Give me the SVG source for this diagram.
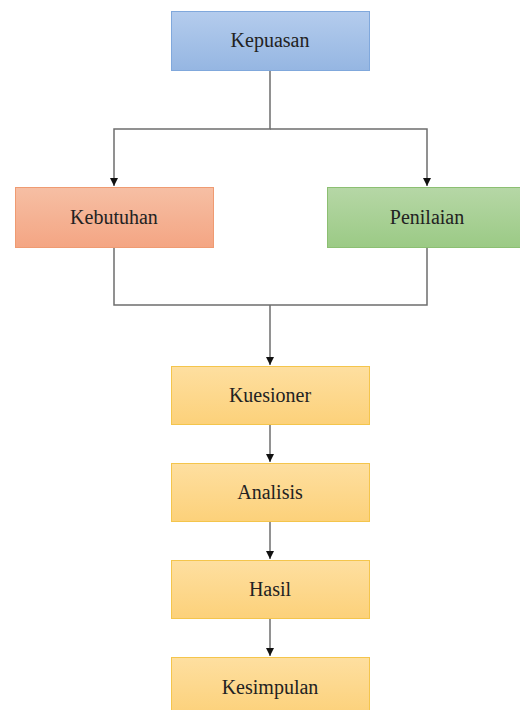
<svg xmlns="http://www.w3.org/2000/svg" width="520" height="710" viewBox="0 0 520 710">
<style>
.t{font-size:20px;fill:#222;text-anchor:middle}
.c{fill:none;stroke:#6e6e6e;stroke-width:1.5}
</style>
<defs>
<linearGradient id="gb" x1="0" y1="0" x2="0" y2="1"><stop offset="0" stop-color="#b4cced"/><stop offset="1" stop-color="#95b6e2"/></linearGradient>
<linearGradient id="go" x1="0" y1="0" x2="0" y2="1"><stop offset="0" stop-color="#f6bfa4"/><stop offset="1" stop-color="#f4a583"/></linearGradient>
<linearGradient id="gg" x1="0" y1="0" x2="0" y2="1"><stop offset="0" stop-color="#b6d7a6"/><stop offset="1" stop-color="#9bca85"/></linearGradient>
<linearGradient id="gy" x1="0" y1="0" x2="0" y2="1"><stop offset="0" stop-color="#fedfa0"/><stop offset="1" stop-color="#fcd17a"/></linearGradient>
<marker id="ah" markerWidth="10" markerHeight="10" refX="8" refY="5" orient="auto" markerUnits="userSpaceOnUse"><path d="M0,1 L8,5 L0,9 Z" fill="#111"/></marker>
</defs>
<g id="connectors">
<path class="c" d="M270,70 V129 H114 V186" marker-end="url(#ah)"/>
<path class="c" d="M270,129 H427 V186" marker-end="url(#ah)"/>
<path class="c" d="M114,247 V305 H427 V247"/>
<path class="c" d="M270,305 V365" marker-end="url(#ah)"/>
<path class="c" d="M270,424 V462" marker-end="url(#ah)"/>
<path class="c" d="M270,521 V559" marker-end="url(#ah)"/>
<path class="c" d="M270,618 V656" marker-end="url(#ah)"/>
</g>
<g font-family="'Liberation Serif', 'Times New Roman', 'DejaVu Serif', serif">
<g id="kepuasan"><rect x="171.5" y="11.5" width="198" height="59" fill="url(#gb)" stroke="#80a8dc"/><text class="t" x="270" y="47">Kepuasan</text></g>
<g id="kebutuhan"><rect x="15.5" y="187.5" width="198" height="60" fill="url(#go)" stroke="#ef9b72"/><text class="t" x="114" y="224">Kebutuhan</text></g>
<g id="penilaian"><rect x="327.5" y="187.5" width="198" height="60" fill="url(#gg)" stroke="#8cbf72"/><text class="t" x="427" y="224">Penilaian</text></g>
<g id="kuesioner"><rect x="171.5" y="366.5" width="198" height="58" fill="url(#gy)" stroke="#f4c54c"/><text class="t" x="270" y="402">Kuesioner</text></g>
<g id="analisis"><rect x="171.5" y="463.5" width="198" height="58" fill="url(#gy)" stroke="#f4c54c"/><text class="t" x="270" y="499">Analisis</text></g>
<g id="hasil"><rect x="171.5" y="560.5" width="198" height="58" fill="url(#gy)" stroke="#f4c54c"/><text class="t" x="270" y="596">Hasil</text></g>
<g id="kesimpulan"><rect x="171.5" y="657.5" width="198" height="58" fill="url(#gy)" stroke="#f4c54c"/><text class="t" x="270" y="694">Kesimpulan</text></g>
</g>
</svg>
